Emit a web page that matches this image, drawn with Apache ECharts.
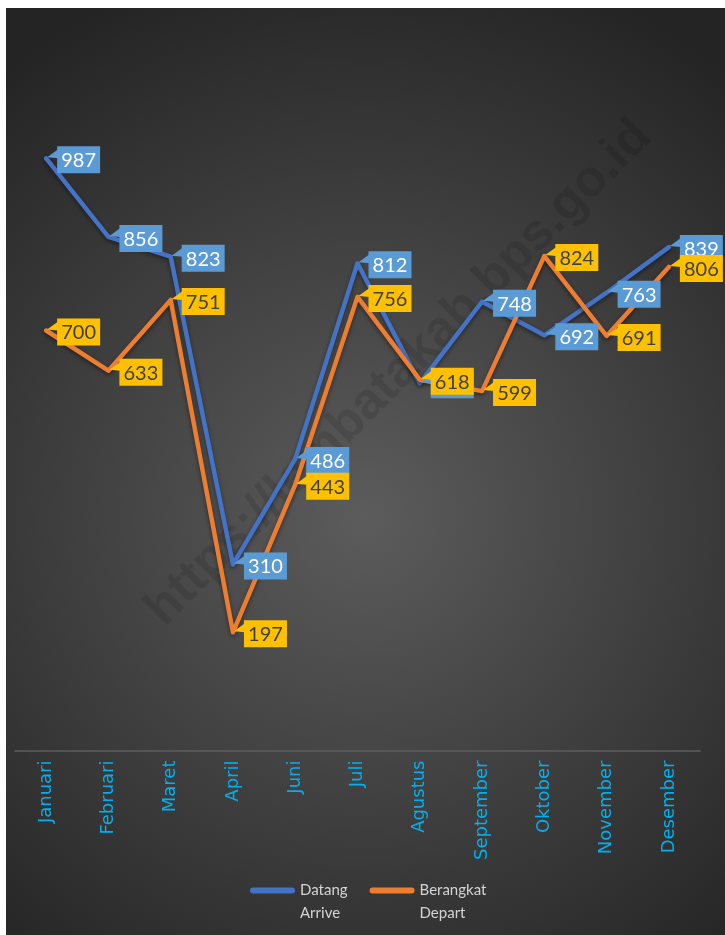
<!DOCTYPE html>
<html><head><meta charset="utf-8">
<script src="https://cdn.jsdelivr.net/npm/echarts@6/dist/echarts.min.js"></script>
<style>html,body{margin:0;padding:0;background:#fff;width:725px;height:935px;overflow:hidden}
#c{position:absolute;left:6px;top:8px;width:719px;height:927px}</style></head>
<body><div id="c"></div>
<script>
const categories = ['Januari','Februari','Maret','April','Juni','Juli','Agustus','September','Oktober','November','Desember'];
const datang = [987, 856, 823, 310, 486, 812, 612, 748, 692, 763, 839];
const berangkat = [700, 633, 751, 197, 443, 756, 618, 599, 824, 691, 806];
const seriesNames = ['Datang\nArrive', 'Berangkat\nDepart'];
const watermark = 'https://lembatakab.bps.go.id';

function labelSeries(name, data, fill, textFill, z) {
  return {
    type: 'custom', name: name, z: z, silent: true, clip: false,
    data: data.map((v, i) => [i, v]),
    encode: { x: 0, y: 1 },
    renderItem: function (params, api) {
      const p = api.coord([api.value(0), api.value(1)]);
      const w = 43, h = 27;
      const bx = p[0] + 11, by = p[1] - 12;
      return {
        type: 'group',
        children: [
          { type: 'polygon', shape: { points: [[p[0] + 1, p[1] - 1], [bx + 1, by + 3], [bx + 1, by + 12]] }, style: { fill: fill } },
          { type: 'rect', shape: { x: bx, y: by, width: w, height: h }, style: { fill: fill } },
          { type: 'text', style: { text: String(api.value(1)), x: bx + w / 2, y: by + h / 2 + 1, align: 'center', verticalAlign: 'middle', fill: textFill, fontSize: 20, fontFamily: 'Lato' } }
        ]
      };
    }
  };
}

const chart = echarts.init(document.getElementById('c'), null, { renderer: 'canvas' });
chart.setOption({
  animation: false,
  backgroundColor: { type: 'radial', x: 0.5, y: 0.55, r: 0.8, colorStops: [{ offset: 0, color: '#5c5c5c' }, { offset: 1, color: '#242424' }] },
  graphic: [{
    type: 'text', x: 393, y: 365, rotation: Math.PI / 4, z: 0, silent: true,
    style: { text: watermark, fontSize: 51, fontWeight: 'bold', fontFamily: 'Liberation Sans', fill: 'rgba(0,0,0,0.11)', align: 'center', verticalAlign: 'middle' }
  }],
  grid: { left: 9, right: 25, top: 22.5, bottom: 184.5, outerBoundsMode: 'none' },
  legend: {
    data: seriesNames, left: 244, top: 848, padding: 0, itemWidth: 45, itemHeight: 6, itemGap: 22,
    icon: 'path://M3,0 L42,0 A3,3 0 0 1 42,6 L3,6 A3,3 0 0 1 3,0 Z',
    formatter: function (name) { return '\u00a0\n' + name; },
    textStyle: { color: '#d4d4d4', fontSize: 15, fontFamily: 'Lato', lineHeight: 23 }
  },
  xAxis: {
    type: 'category', data: categories, boundaryGap: true,
    axisLine: { lineStyle: { color: '#5e5e5e', width: 1.5 } },
    axisTick: { show: false },
    axisLabel: { rotate: 90, color: '#00b0f0', fontSize: 18, fontFamily: 'DejaVu Sans', margin: 10 }
  },
  yAxis: { type: 'value', min: 0, max: 1200, show: false, splitLine: { show: false } },
  series: [
    { type: 'line', name: seriesNames[0], data: datang, symbol: 'none', z: 2, itemStyle: { color: '#4472c4' },
      lineStyle: { color: '#4472c4', width: 4.5, cap: 'round', join: 'round', shadowColor: 'rgba(0,0,0,0.45)', shadowBlur: 4, shadowOffsetY: 2 } },
    { type: 'line', name: seriesNames[1], data: berangkat, symbol: 'none', z: 3, itemStyle: { color: '#ed7d31' },
      lineStyle: { color: '#ed7d31', width: 4.5, cap: 'round', join: 'round', shadowColor: 'rgba(0,0,0,0.45)', shadowBlur: 4, shadowOffsetY: 2 } },
    labelSeries('lblDatang', datang, '#5b9bd5', '#ffffff', 10),
    labelSeries('lblBerangkat', berangkat, '#ffc000', '#404040', 11)
  ]
});
</script></body></html>
